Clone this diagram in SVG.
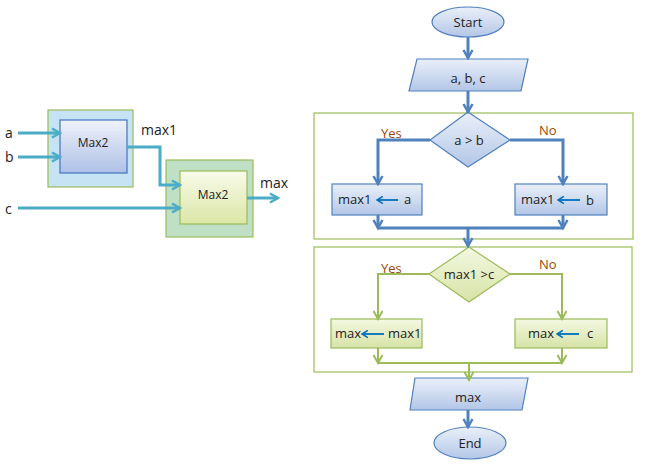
<svg xmlns="http://www.w3.org/2000/svg" width="645" height="467" viewBox="0 0 645 467">
<defs>
<linearGradient id="gBlue" x1="0" y1="0" x2="0" y2="1"><stop offset="0" stop-color="#eaf0f9"/><stop offset="1" stop-color="#b3c6e7"/></linearGradient>
<linearGradient id="gGreen" x1="0" y1="0" x2="0" y2="1"><stop offset="0" stop-color="#f4f8e2"/><stop offset="1" stop-color="#d6e3a6"/></linearGradient>
<linearGradient id="gM1" x1="0" y1="0" x2="0" y2="1"><stop offset="0" stop-color="#eef2fa"/><stop offset="1" stop-color="#afc1e6"/></linearGradient>
<linearGradient id="gM2" x1="0" y1="0" x2="0" y2="1"><stop offset="0" stop-color="#f8fbea"/><stop offset="1" stop-color="#dbe6a6"/></linearGradient>
<marker id="aBlue" viewBox="0 0 12 12" refX="10" refY="6" markerWidth="12" markerHeight="12" markerUnits="userSpaceOnUse" orient="auto"><path d="M2,1.5 L10,6 L2,10.5" fill="none" stroke="#4f81bd" stroke-width="2.5"/></marker>
<marker id="aGreen" viewBox="0 0 12 12" refX="10" refY="6" markerWidth="12" markerHeight="12" markerUnits="userSpaceOnUse" orient="auto"><path d="M2,1.5 L10,6 L2,10.5" fill="none" stroke="#9bbb59" stroke-width="2"/></marker>
<marker id="aTeal" viewBox="0 0 12 12" refX="10" refY="6" markerWidth="12" markerHeight="12" markerUnits="userSpaceOnUse" orient="auto"><path d="M2,1.5 L10,6 L2,10.5" fill="none" stroke="#4bacc6" stroke-width="2.5"/></marker>
<marker id="aSmall" viewBox="0 0 10 10" refX="9" refY="5" markerWidth="9" markerHeight="9" markerUnits="userSpaceOnUse" orient="auto"><path d="M2.5,1 L9,5 L2.5,9" fill="none" stroke="#0070c0" stroke-width="1.8"/></marker>
</defs>
<style>
text{font-family:"Open Sans","Noto Sans",sans-serif;fill:#222;}
.t13{font-size:13px;}
.t12{font-size:12px;}
.t14{font-size:14px;}
.lbl{font-size:13px;fill:#984807;}
.mid{text-anchor:middle;}
.bshape{fill:url(#gBlue);stroke:#4f81bd;stroke-width:1.2;}
.gshape{fill:url(#gGreen);stroke:#9bbb59;stroke-width:1.2;}
.frame{fill:#fff;stroke:#9bbb59;stroke-width:1.2;}
.cb{fill:none;stroke:#4f81bd;stroke-width:3;}
.cg{fill:none;stroke:#9bbb59;stroke-width:2;}
.ct{fill:none;stroke:#4bacc6;stroke-width:3;}
.sa{fill:none;stroke:#0070c0;stroke-width:1.8;}
</style>

<!-- Left block diagram -->
<g id="blockA">
<rect x="48" y="110" width="85" height="77" fill="#c5e3f3" stroke="#9bbb59" stroke-width="1.2"/>
<rect x="60" y="120" width="67" height="53" fill="url(#gM1)" stroke="#4472c4" stroke-width="1.2"/>
<text class="t12 mid" x="93" y="147">Max2</text>
</g>
<g id="blockB">
<rect x="166" y="160" width="87" height="77" fill="#bfe0c4" stroke="#9bbb59" stroke-width="1.2"/>
<rect x="180" y="171" width="67" height="53" fill="url(#gM2)" stroke="#9bbb59" stroke-width="1.2"/>
<text class="t12 mid" x="213" y="199">Max2</text>
</g>
<g id="labels-left">
<text class="t14" x="5" y="138">a</text>
<text class="t14" x="5" y="162">b</text>
<text class="t14" x="5" y="214">c</text>
<text class="t14" x="141" y="135">max1</text>
<text class="t14" x="260" y="188">max</text>
</g>

<!-- Flowchart nodes -->
<g id="start">
<ellipse cx="468" cy="22" rx="36" ry="15" class="bshape"/>
<text class="t13 mid" x="468" y="27">Start</text>
</g>
<g id="input">
<polygon points="417,59 528,59 521,91 409,91" class="bshape"/>
<text class="t13 mid" x="468" y="83">a, b, c</text>
</g>
<g id="frame1">
<rect x="314" y="113" width="319" height="126" class="frame"/>
</g>
<g id="frame2">
<rect x="314" y="247" width="318" height="125" class="frame"/>
</g>
<g id="dec1">
<polygon points="468,112 510,140 468,167 430,140" class="bshape"/>
<text class="t13 mid" x="469" y="145">a &gt; b</text>
</g>
<g id="assignA">
<rect x="332" y="184" width="90" height="31" class="bshape"/>
<text class="t13" x="338" y="204">max1</text>
<line x1="398" y1="200" x2="377" y2="200" class="sa" marker-end="url(#aSmall)"/>
<text class="t13" x="404" y="204">a</text>
</g>
<g id="assignB">
<rect x="515" y="184" width="92" height="31" class="bshape"/>
<text class="t13" x="521" y="204">max1</text>
<line x1="580" y1="200" x2="558" y2="200" class="sa" marker-end="url(#aSmall)"/>
<text class="t13" x="586" y="205">b</text>
</g>
<g id="dec2">
<polygon points="469,247 510,274 469,302 429,274" class="gshape"/>
<text class="t13 mid" x="469" y="279">max1 &gt;c</text>
</g>
<g id="assignMax1">
<rect x="331" y="319" width="91" height="29" class="gshape"/>
<text class="t13" x="335" y="338">max</text>
<line x1="384" y1="334" x2="362" y2="334" class="sa" marker-end="url(#aSmall)"/>
<text class="t13" x="388" y="338">max1</text>
</g>
<g id="assignC">
<rect x="515" y="319" width="92" height="29" class="gshape"/>
<text class="t13" x="528" y="338">max</text>
<line x1="579" y1="334" x2="557" y2="334" class="sa" marker-end="url(#aSmall)"/>
<text class="t13" x="587" y="338">c</text>
</g>
<g id="output">
<polygon points="415,378 528,378 522,410 410,410" class="bshape"/>
<text class="t13 mid" x="468" y="402">max</text>
</g>
<g id="end">
<ellipse cx="470" cy="443" rx="36" ry="16" class="bshape"/>
<text class="t13 mid" x="470" y="448">End</text>
</g>
<g id="branch-labels">
<text class="lbl" x="381" y="138">Yes</text>
<text class="lbl" x="539" y="135">No</text>
<text class="lbl" x="381" y="273">Yes</text>
<text class="lbl" x="539" y="269">No</text>
</g>

<!-- Connectors -->
<g id="connectors">
<path class="ct" d="M18,133 H60" marker-end="url(#aTeal)"/>
<path class="ct" d="M18,157 H60" marker-end="url(#aTeal)"/>
<path class="ct" d="M18,208 H180" marker-end="url(#aTeal)"/>
<path class="ct" d="M127,147 H160 V185 H180" marker-end="url(#aTeal)"/>
<path class="ct" d="M247,198 H278" marker-end="url(#aTeal)"/>

<path class="cb" d="M468,37 V58" marker-end="url(#aBlue)"/>
<path class="cb" d="M468,91 V112" marker-end="url(#aBlue)"/>
<path class="cb" d="M430,140 H378 V184" marker-end="url(#aBlue)"/>
<path class="cb" d="M510,140 H563 V184" marker-end="url(#aBlue)"/>
<path class="cb" d="M378,215 V228" marker-end="url(#aBlue)"/>
<path class="cb" d="M563,215 V228" marker-end="url(#aBlue)"/>
<path class="cb" d="M378,228 H563"/>
<path class="cb" d="M468,228 V246" marker-end="url(#aBlue)"/>

<path class="cg" d="M429,274 H378 V319" marker-end="url(#aGreen)"/>
<path class="cg" d="M510,274 H562 V319" marker-end="url(#aGreen)"/>
<path class="cg" d="M378,348 V363" marker-end="url(#aGreen)"/>
<path class="cg" d="M562,348 V363" marker-end="url(#aGreen)"/>
<path class="cg" d="M378,363 H562"/>
<path class="cg" d="M469,363 V380" marker-end="url(#aGreen)"/>
<path class="cb" d="M468,410 V427" marker-end="url(#aBlue)"/>
</g>
</svg>
